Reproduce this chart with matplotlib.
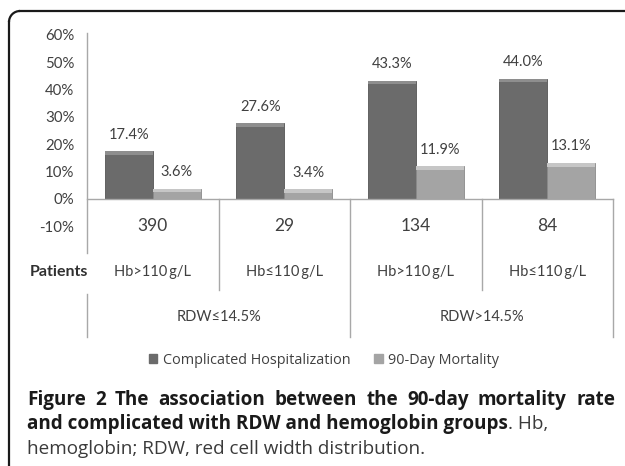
import numpy as np
import matplotlib
matplotlib.use("Agg")
import matplotlib.pyplot as plt
from matplotlib.patches import Rectangle, Arc
from matplotlib.lines import Line2D

plt.rcParams['font.family'] = ['Lato', 'DejaVu Sans']

# data
hb_groups = ['Hb>110\u2009g/L', 'Hb\u2264110\u2009g/L', 'Hb>110\u2009g/L', 'Hb\u2264110\u2009g/L']
rdw_groups = ['RDW\u226414.5%', 'RDW>14.5%']
patients = [390, 29, 134, 84]
complicated = [17.4, 27.6, 43.3, 44.0]
mortality = [3.6, 3.4, 11.9, 13.1]
series_names = ['Complicated Hospitalization', '90-Day Mortality']

dark = '#6b6b6b'
light = '#a4a4a4'
grid = '#a8a8a8'
txt = '#404040'

W, H = 625, 466
fig = plt.figure(figsize=(W / 100, H / 100), dpi=100)
ax = fig.add_axes([0.1392, 0.515, 0.8416, 0.4099])

x = np.arange(len(patients)) + 0.5
w = 0.365
comp = np.array(complicated) / 100
mort = np.array(mortality) / 100
b1 = ax.bar(x - w / 2, comp, w, color=dark, edgecolor='#555555', linewidth=0.6)
b2 = ax.bar(x + w / 2, mort, w, color=light, edgecolor='#8a8a8a', linewidth=0.6)
# bevel highlight at the top of each bar
band = 0.013
ax.bar(x - w / 2, band, w, bottom=comp - band, color='#8e8e8e', linewidth=0)
ax.bar(x + w / 2, band, w, bottom=mort - band, color='#c6c6c6', linewidth=0)

for bars, vals in [(b1, complicated), (b2, mortality)]:
    for r, v in zip(bars, vals):
        ax.annotate(f'{v:.1f}%', (r.get_x() + r.get_width() / 2, r.get_height()),
                    xytext=(0, 7), textcoords='offset points', ha='center', va='bottom',
                    fontsize=10.5, color=txt)

ax.set_xlim(0, 4)
ax.set_ylim(-0.1, 0.6)
ticks = np.arange(-0.1, 0.61, 0.1)
ax.set_yticks(ticks)
ax.set_yticklabels([f'{int(round(t * 100))}%' for t in ticks], fontsize=10.8, color=txt)
ax.tick_params(axis='y', length=0, pad=9)
ax.set_xticks([])
for s in ax.spines.values():
    s.set_visible(False)

# axis line and table lines
kw = dict(color=grid, linewidth=1, clip_on=False)
ax.plot([0, 4], [0, 0], **kw)
ax.plot([0, 0], [0.607, -0.198], **kw)
ax.plot([0, 0], [-0.348, -0.505], **kw)
for xv in [1, 3]:
    ax.plot([xv, xv], [0, -0.333], **kw)
ax.plot([2, 2], [0, -0.505], **kw)
ax.plot([4, 4], [0, -0.505], **kw)

for xi, n in zip(x, patients):
    ax.text(xi, -0.1, str(n), ha='center', va='center', fontsize=12.5, color=txt)
for xi, g in zip(x, hb_groups):
    ax.text(xi, -0.267, g, ha='center', va='center', fontsize=10.5, color=txt)
for xi, g in zip([1, 3], rdw_groups):
    ax.text(xi, -0.435, g, ha='center', va='center', fontsize=10.5, color=txt)
ax.text(0.01, -0.267, 'Patients', ha='right', va='center', fontsize=11.5,
        fontweight='bold', color='#303030')

handles = [Rectangle((0, 0), 1, 1, color=dark), Rectangle((0, 0), 1, 1, color=light)]
fig.legend(handles, series_names, loc='center', bbox_to_anchor=(324 / W, 1 - 360 / H),
           ncol=2, frameon=False, handlelength=0.6, handleheight=0.6, handletextpad=0.4,
           columnspacing=1.6, prop={'family': 'Open Sans', 'size': 10.4}, labelcolor=txt)

# frame: top and left edges with a rounded corner
r = 11
fx, fy = 9, 11
lk = dict(color='#1a1a1a', linewidth=1.6, transform=fig.transFigure)
fig.add_artist(Line2D([(fx + r) / W, 1.02], [1 - fy / H] * 2, **lk))
fig.add_artist(Line2D([fx / W] * 2, [1 - (fy + r) / H, -0.02], **lk))
fig.add_artist(Arc(((fx + r) / W, 1 - (fy + r) / H), 2 * r / W, 2 * r / H, theta1=90,
                   theta2=180, edgecolor='#1a1a1a', linewidth=1.6, transform=fig.transFigure))

# caption
x0 = 27
fam = 'Open Sans'
rend = fig.canvas.get_renderer()


def width_of(s, size, weight='normal'):
    t = fig.text(0, 0, s, family=fam, fontsize=size, fontweight=weight)
    wpx = t.get_window_extent(rend).width
    t.remove()
    return wpx


# fit font size so that the second line is as wide as in the figure
line2_bold = 'and complicated with RDW and hemoglobin groups'
line2_reg = '. Hb,'
size = 11.0
for _ in range(4):
    wd = width_of(line2_bold, size, 'bold') + width_of(line2_reg, size)
    size *= (548 - x0) / wd

# first line justified between x0 and 615
words = 'Figure 2 The association between the 90-day mortality rate'.split()
ww = [width_of(wd_, size, 'bold') for wd_ in words]
gap = (615 - x0 - sum(ww)) / (len(words) - 1)
xp = x0
for wd_, wpx in zip(words, ww):
    fig.text(xp / W, 1 - 400 / H, wd_, family=fam, fontsize=size, fontweight='bold',
             va='center', color='#1a1a1a')
    xp += wpx + gap

t1 = fig.text(x0 / W, 1 - 424 / H, line2_bold, family=fam, fontsize=size, fontweight='bold',
              va='center', color='#1a1a1a')
bb = t1.get_window_extent(rend)
fig.text(bb.x1 / W, 1 - 424 / H, line2_reg, family=fam, fontsize=size, va='center',
         color='#3a3a3a')
fig.text(x0 / W, 1 - 449 / H, 'hemoglobin; RDW, red cell width distribution.', family=fam,
         fontsize=size, va='center', color='#3a3a3a')

fig.savefig('out.png', dpi=100)
